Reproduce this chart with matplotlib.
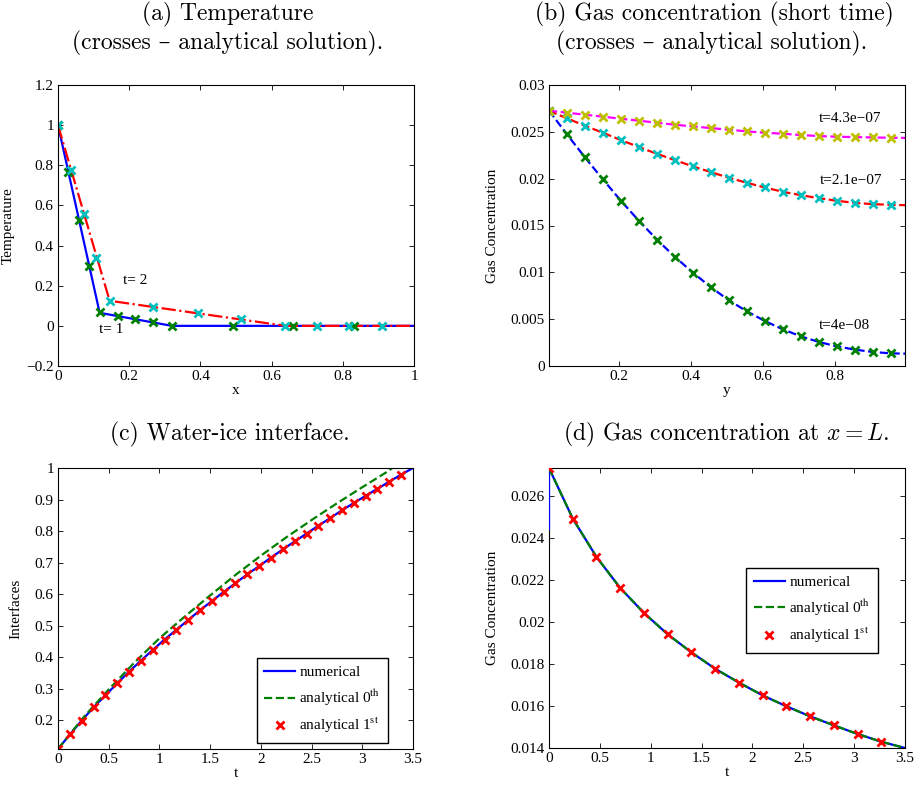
import numpy as np
import matplotlib.pyplot as plt
from matplotlib.ticker import FuncFormatter

# (a) temperature profiles
a_num1_x = [0.0, 0.117, 0.32, 1.0]
a_num1_y = [1.0, 0.065, 0.0, 0.0]
a_num2_x = [0.0, 0.145, 0.64, 1.0]
a_num2_y = [1.0, 0.125, 0.0, 0.0]
a_ex1_x = [0.0, 0.028, 0.058, 0.087, 0.117, 0.168, 0.217, 0.268, 0.32, 0.491, 0.661, 0.832]
a_ex1_y = [1.0, 0.765, 0.529, 0.296, 0.068, 0.050, 0.033, 0.017, 0.0, 0.0, 0.0, 0.0]
a_ex2_x = [0.0, 0.036, 0.073, 0.108, 0.145, 0.268, 0.392, 0.515, 0.637, 0.727, 0.818, 0.911]
a_ex2_y = [1.0, 0.779, 0.559, 0.339, 0.126, 0.095, 0.063, 0.033, 0.0, 0.0, 0.0, 0.0]

# (b) gas concentration, short times
b_y = [0.005, 0.055, 0.105, 0.155, 0.205, 0.255, 0.305, 0.355, 0.405, 0.455,
       0.505, 0.555, 0.605, 0.655, 0.705, 0.755, 0.805, 0.855, 0.905, 0.955]
b_end = 0.995
b_c1 = [0.02726, 0.02473, 0.02227, 0.01992, 0.01764, 0.0155, 0.0135, 0.01165, 0.00998, 0.00841,
        0.00702, 0.00584, 0.00481, 0.00392, 0.00317, 0.00257, 0.0021, 0.00175, 0.0015, 0.00135]
b_c1_end = 0.00132
b_c2 = [0.02726, 0.02644, 0.02565, 0.0249, 0.02412, 0.02337, 0.02266, 0.02198, 0.02131, 0.0207,
        0.0201, 0.01956, 0.01906, 0.0186, 0.01824, 0.01792, 0.01764, 0.01742, 0.01728, 0.01721]
b_c2_end = 0.01717
b_c3 = [0.02726, 0.02704, 0.02683, 0.02662, 0.0264, 0.02619, 0.02597, 0.02576, 0.02558, 0.0254,
        0.02523, 0.02505, 0.0249, 0.0248, 0.02466, 0.02455, 0.02448, 0.02444, 0.0244, 0.02437]
b_c3_end = 0.02435
b_times = ['t=4e\u221208', 't=2.1e\u221207', 't=4.3e\u221207']

# (c) water-ice interface
c_t = [0.0, 0.1167, 0.2333, 0.35, 0.4667, 0.5833, 0.7, 0.8167, 0.9333, 1.05,
       1.1667, 1.2833, 1.4, 1.5167, 1.6333, 1.75, 1.8667, 1.9833, 2.1, 2.2167,
       2.3333, 2.45, 2.5667, 2.6833, 2.8, 2.9167, 3.0333, 3.15, 3.2667, 3.3833]
c_first = [0.109, 0.155, 0.199, 0.241, 0.279, 0.317, 0.354, 0.389, 0.423, 0.456,
           0.487, 0.518, 0.549, 0.578, 0.607, 0.635, 0.663, 0.689, 0.716, 0.742,
           0.767, 0.792, 0.817, 0.841, 0.866, 0.889, 0.912, 0.934, 0.957, 0.979]
c_num_t = c_t + [3.5]
c_num = c_first + [1.0]
c_zero_t = [0.0, 0.25, 0.5, 0.75, 1.0, 1.25, 1.5, 1.75, 2.0, 2.25, 2.5, 2.75, 3.0, 3.25, 3.35]
c_zero = [0.109, 0.209, 0.298, 0.382, 0.460, 0.529, 0.596, 0.661, 0.722, 0.780, 0.835, 0.888, 0.939, 0.989, 1.013]

# (d) gas concentration at x = L
d_t = [0.0, 0.2333, 0.4667, 0.7, 0.9333, 1.1667, 1.4, 1.6333, 1.8667, 2.1,
       2.3333, 2.5667, 2.8, 3.0333, 3.2667]
d_first = [0.02735, 0.02494, 0.02311, 0.02163, 0.02044, 0.01942, 0.01856, 0.01778, 0.01712, 0.01651,
           0.01599, 0.01551, 0.01508, 0.01467, 0.0143]
d_num_t = [0.0] + d_t + [3.5]
d_num = [0.02444] + d_first + [0.014]
d_zero_t = d_t + [3.5]
d_zero = d_first + [0.014]

blue = (0, 0, 1)
red = (1, 0, 0)
green = (0, 0.5, 0)
cyan = (0, 0.75, 0.75)
olive = (0.75, 0.75, 0)
magenta = (1, 0, 1)

plt.rcParams['font.family'] = ['Liberation Serif', 'DejaVu Serif']
plt.rcParams['mathtext.fontset'] = 'stix'
plt.rcParams['font.size'] = 11
plt.rcParams['axes.linewidth'] = 0.8
for ax_name in ('xtick', 'ytick'):
    plt.rcParams[ax_name + '.direction'] = 'in'
    plt.rcParams[ax_name + '.major.size'] = 3.5
    plt.rcParams[ax_name + '.major.width'] = 0.6
    plt.rcParams[ax_name + '.major.pad'] = 3
plt.rcParams['xtick.top'] = True
plt.rcParams['ytick.right'] = True

W, H = 914, 786
fig = plt.figure(figsize=(W / 100, H / 100), dpi=100)


def make_ax(left, top, right, bottom):
    return fig.add_axes([left / W, 1 - bottom / H, (right - left) / W, (bottom - top) / H])


fmt = FuncFormatter(lambda v, p: ('%g' % v).replace('-', '\u2212'))
mk = dict(ls='none', marker='x', ms=5.5, mew=2)

title_font = dict(family=['cmr10', 'DejaVu Serif'], fontsize=17, ha='center', va='center')
fig.text(228 / W, 1 - 14 / H, '(a) Temperature', **title_font)
fig.text(228 / W, 1 - 43 / H, '(crosses \u2013 analytical solution).', **title_font)
fig.text(714 / W, 1 - 14 / H, '(b) Gas concentration (short time)', **title_font)
fig.text(712 / W, 1 - 43 / H, '(crosses \u2013 analytical solution).', **title_font)
fig.text(230 / W, 1 - 434 / H, '(c) Water-ice interface.', **title_font)
fig.text(726 / W, 1 - 434 / H, '(d) Gas concentration at $x = L$.', math_fontfamily='cm', **title_font)

# (a)
ax = make_ax(58, 85, 414, 366)
ax.plot(a_num1_x, a_num1_y, '-', color=blue, lw=1.6)
ax.plot(a_num2_x, a_num2_y, '-.', color=red, lw=1.6)
ax.plot(a_ex1_x, a_ex1_y, color=green, **mk)
ax.plot(a_ex2_x, a_ex2_y, color=cyan, **mk)
ax.text(0.183, 0.226, 't= 2', va='center')
ax.text(0.114, -0.02, 't= 1', va='center')
ax.set_xlim(0, 1)
ax.set_ylim(-0.2, 1.2)
ax.set_xticks(np.arange(0, 1.01, 0.2))
ax.set_yticks(np.arange(-0.2, 1.21, 0.2))
ax.xaxis.set_major_formatter(fmt)
ax.yaxis.set_major_formatter(fmt)
ax.set_xlabel('x')
ax.set_ylabel('Temperature')
ax.xaxis.set_label_coords(0.5, -0.065)
ax.yaxis.set_label_coords(-0.121, 0.5)

# (b)
ax = make_ax(549, 85, 905, 366)
ax.plot(b_y + [b_end], b_c1 + [b_c1_end], '--', color=blue, lw=1.6)
ax.plot(b_y + [b_end], b_c2 + [b_c2_end], '--', color=red, lw=1.6)
ax.plot(b_y + [b_end], b_c3 + [b_c3_end], '--', color=magenta, lw=1.6)
ax.plot(b_y, b_c1, color=green, **mk)
ax.plot(b_y, b_c2, color=cyan, **mk)
ax.plot(b_y, b_c3, color=olive, **mk)
ax.text(0.754, 0.00435, b_times[0], va='center')
ax.text(0.759, 0.01985, b_times[1], va='center')
ax.text(0.754, 0.02644, b_times[2], va='center')
ax.set_xlim(0.005, 0.995)
ax.set_ylim(0, 0.03)
ax.set_xticks([0.2, 0.4, 0.6, 0.8])
ax.set_yticks(np.arange(0, 0.0301, 0.005))
ax.xaxis.set_major_formatter(fmt)
ax.yaxis.set_major_formatter(fmt)
ax.set_xlabel('y')
ax.set_ylabel('Gas Concentration')
ax.xaxis.set_label_coords(0.5, -0.065)
ax.yaxis.set_label_coords(-0.140, 0.5)

leg_kw = dict(frameon=True, fancybox=False, edgecolor='black', framealpha=1,
              handlelength=2.0, handletextpad=0.3, labelspacing=0.55, borderpad=0.5,
              borderaxespad=0)

# (c)
ax = make_ax(58, 468, 413, 749)
ax.plot(c_num_t, c_num, '-', color=blue, lw=1.6, label='numerical')
ax.plot(c_zero_t, c_zero, '--', color=green, lw=1.6, label='analytical 0$^{\\mathrm{th}}$')
ax.plot(c_t, c_first, color=red, label='analytical 1$^{\\mathrm{st}}$', **mk)
ax.set_xlim(0, 3.5)
ax.set_ylim(0.109, 1.0)
ax.set_xticks(np.arange(0, 3.51, 0.5))
ax.set_yticks(np.arange(0.2, 1.01, 0.1))
ax.xaxis.set_major_formatter(fmt)
ax.yaxis.set_major_formatter(fmt)
ax.set_xlabel('t')
ax.set_ylabel('Interfaces')
ax.xaxis.set_label_coords(0.5, -0.065)
ax.yaxis.set_label_coords(-0.099, 0.5)
leg = ax.legend(loc='lower right', bbox_to_anchor=(0.93, 0.021), **leg_kw)
leg.get_frame().set_linewidth(1.0)

# (d)
ax = make_ax(549, 468, 905, 748)
ax.plot(d_num_t, d_num, '-', color=blue, lw=1.6, label='numerical', zorder=3)
ax.plot(d_zero_t, d_zero, '--', color=green, lw=1.6, label='analytical 0$^{\\mathrm{th}}$', zorder=3.1)
ax.plot(d_t, d_first, color=red, label='analytical 1$^{\\mathrm{st}}$', zorder=3.2, **mk)
ax.set_xlim(0, 3.5)
ax.set_ylim(0.014, 0.02735)
ax.set_xticks(np.arange(0, 3.51, 0.5))
ax.set_yticks(np.arange(0.014, 0.02601, 0.002))
ax.xaxis.set_major_formatter(fmt)
ax.yaxis.set_major_formatter(fmt)
ax.set_xlabel('t')
ax.set_ylabel('Gas Concentration')
ax.xaxis.set_label_coords(0.5, -0.065)
ax.yaxis.set_label_coords(-0.140, 0.5)
leg = ax.legend(loc='upper right', bbox_to_anchor=(0.924, 0.644), **leg_kw)
leg.get_frame().set_linewidth(1.0)

fig.savefig('out.png', dpi=100)
